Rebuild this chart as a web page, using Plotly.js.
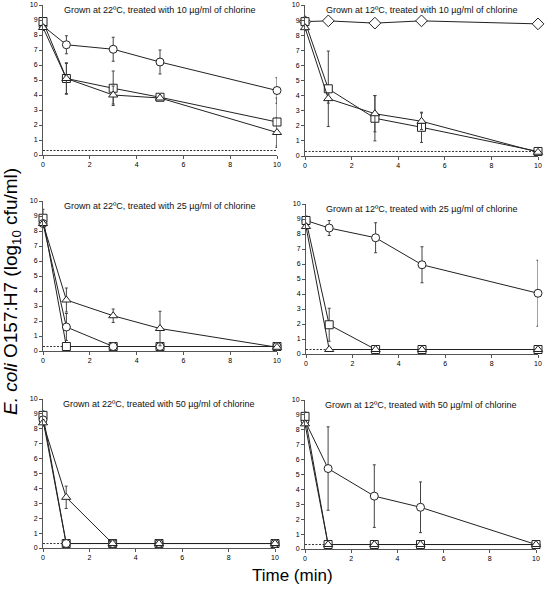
<!DOCTYPE html>
<html>
<head>
<meta charset="utf-8">
<script src="https://cdn.plot.ly/plotly-3.0.1.min.js"></script>
<style>html,body{margin:0;padding:0;background:#fff;}</style>
</head>
<body>
<div id="chart" style="width:545px;height:589px;"></div>
<script>
// Sampling times (min)
const times = [0, 1, 3, 5, 10];
const detectionLimit = 0.3;
const panelTitles = [
  "Grown at 22\u00baC, treated with 10 \u00b5g/ml of chlorine",
  "Grown at 12\u00baC, treated with 10 \u00b5g/ml of chlorine",
  "Grown at 22\u00baC, treated with 25 \u00b5g/ml of chlorine",
  "Grown at 12\u00baC, treated with 25 \u00b5g/ml of chlorine",
  "Grown at 22\u00baC, treated with 50 \u00b5g/ml of chlorine",
  "Grown at 12\u00baC, treated with 50 \u00b5g/ml of chlorine"
];

// Panel 1: 22C, 10 ug/ml
const p1Circle = [8.6, 7.35, 7.05, 6.2, 4.3];
const p1CircleErr = [0.15, 0.6, 0.8, 0.8, 0.85];
const p1Square = [8.9, 5.1, 4.45, 3.85, 2.2];
const p1SquareErr = [0.2, 1.05, 1.15, 0.1, 1.6];
const p1Triangle = [8.5, 5.1, 4.0, 3.8, 1.5];
const p1TriangleErr = [0.2, 1.0, 0.6, 0.1, 1.0];

// Panel 2: 12C, 10 ug/ml
const p2Diamond = [8.9, 8.95, 8.8, 8.95, 8.75];
const p2DiamondErr = [0.15, 0.15, 0.15, 0.15, 0.1];
const p2Square = [8.9, 4.45, 2.5, 1.9, 0.3];
const p2SquareErr = [0.3, 2.5, 1.5, 1.0, 0];
const p2Triangle = [8.5, 3.8, 2.8, 2.3, 0.25];
const p2TriangleErr = [0.2, 0.3, 1.2, 0.55, 0];

// Panel 3: 22C, 25 ug/ml
const p3Square = [8.85, 0.3, 0.3, 0.3, 0.3];
const p3SquareErr = [0.6, 0, 0, 0, 0];
const p3Circle = [8.5, 1.6, 0.3, 0.3, 0.3];
const p3CircleErr = [0.2, 0.9, 0, 0, 0];
const p3Triangle = [8.5, 3.4, 2.35, 1.5, 0.25];
const p3TriangleErr = [0.2, 0.8, 0.45, 1.15, 0];

// Panel 4: 12C, 25 ug/ml
const p4Circle = [8.9, 8.4, 7.75, 5.95, 4.05];
const p4CircleErr = [0.3, 0.5, 1.0, 1.2, 2.2];
const p4Square = [8.9, 1.95, 0.3, 0.3, 0.3];
const p4SquareErr = [0.2, 1.1, 0, 0, 0];
const p4Triangle = [8.5, 0.3, 0.3, 0.3, 0.3];
const p4TriangleErr = [0.2, 0, 0, 0, 0];

// Panel 5: 22C, 50 ug/ml
const p5Square = [8.9, 0.3, 0.3, 0.3, 0.3];
const p5SquareErr = [0.3, 0, 0, 0, 0];
const p5Circle = [8.6, 0.3, 0.3, 0.3, 0.3];
const p5CircleErr = [0.2, 0, 0, 0, 0];
const p5Triangle = [8.4, 3.4, 0.3, 0.3, 0.3];
const p5TriangleErr = [0.2, 0.75, 0, 0, 0];

// Panel 6: 12C, 50 ug/ml
const p6Circle = [8.6, 5.4, 3.55, 2.8, 0.3];
const p6CircleErr = [0.3, 2.8, 2.1, 1.7, 0];
const p6Square = [8.9, 0.3, 0.3, 0.3, 0.3];
const p6SquareErr = [0.3, 0, 0, 0, 0];
const p6Triangle = [8.4, 0.3, 0.3, 0.3, 0.3];
const p6TriangleErr = [0.2, 0, 0, 0, 0];

const xTicks = [0, 2, 4, 6, 8, 10];
const yTicks = [0, 1, 2, 3, 4, 5, 6, 7, 8, 9, 10];

const panels = [
  [["circle", p1Circle, p1CircleErr], ["square", p1Square, p1SquareErr], ["triangle-up", p1Triangle, p1TriangleErr]],
  [["diamond", p2Diamond, p2DiamondErr], ["square", p2Square, p2SquareErr], ["triangle-up", p2Triangle, p2TriangleErr]],
  [["square", p3Square, p3SquareErr], ["circle", p3Circle, p3CircleErr], ["triangle-up", p3Triangle, p3TriangleErr]],
  [["circle", p4Circle, p4CircleErr], ["square", p4Square, p4SquareErr], ["triangle-up", p4Triangle, p4TriangleErr]],
  [["square", p5Square, p5SquareErr], ["circle", p5Circle, p5CircleErr], ["triangle-up", p5Triangle, p5TriangleErr]],
  [["circle", p6Circle, p6CircleErr], ["square", p6Square, p6SquareErr], ["triangle-up", p6Triangle, p6TriangleErr]]
];

const W = 545, H = 589;
// pixel boxes [left, right, top, bottom]
const boxes = [
  [43, 277, 5, 155],
  [305, 538, 5, 156],
  [43, 277, 201, 351],
  [306, 538, 204, 354],
  [43, 275, 399, 548],
  [305, 536, 400, 549]
];

const traces = [];
const layout = {
  width: W, height: H,
  margin: {l: 0, r: 0, t: 0, b: 0},
  paper_bgcolor: "#fff", plot_bgcolor: "rgba(0,0,0,0)",
  showlegend: false,
  font: {family: "Liberation Sans, Arial, sans-serif", color: "#000"},
  annotations: [],
  shapes: []
};

panels.forEach((series, i) => {
  const n = i + 1;
  const xa = "x" + (n === 1 ? "" : n);
  const ya = "y" + (n === 1 ? "" : n);
  const b = boxes[i];
  layout["xaxis" + (n === 1 ? "" : n)] = {
    domain: [b[0] / W, b[1] / W], anchor: ya, range: [0, 10],
    tickvals: xTicks, ticktext: xTicks.map(String),
    ticks: "outside", ticklen: 3, tickwidth: 1, tickcolor: "#555",
    showline: true, linecolor: "#555", linewidth: 1,
    showgrid: false, zeroline: false,
    tickfont: {size: 7, color: "#000"}, fixedrange: true
  };
  layout["yaxis" + (n === 1 ? "" : n)] = {
    domain: [1 - b[3] / H, 1 - b[2] / H], anchor: xa, range: [0, 10],
    tickvals: yTicks, ticktext: yTicks.map(String),
    ticks: "outside", ticklen: 3, tickwidth: 1, tickcolor: "#555",
    showline: true, linecolor: "#555", linewidth: 1,
    showgrid: false, zeroline: false,
    tickfont: {size: 7, color: "#000"}, fixedrange: true
  };
  // detection limit dotted line
  traces.push({
    x: [times[0], times[times.length - 1]], y: [detectionLimit, detectionLimit],
    xaxis: xa, yaxis: ya, mode: "lines", hoverinfo: "skip",
    line: {color: "#333", width: 1, dash: "2px,1.5px"}, cliponaxis: false
  });
  series.forEach(([sym, vals, errs]) => {
    traces.push({
      x: times, y: vals, xaxis: xa, yaxis: ya,
      mode: "lines+markers", cliponaxis: false,
      line: {color: "#222", width: 1},
      marker: {symbol: sym, size: sym === "diamond" ? 9 : 8, color: "#fff",
               line: {width: 1, color: "#222"}},
      error_y: {type: "data", array: errs, visible: true, color: "#444", thickness: 1, width: 1.5}
    });
  });
  layout.annotations.push({
    xref: xa, yref: ya,
    x: 5, y: 9.65, text: panelTitles[i], showarrow: false,
    font: {size: 9, color: "#111"}, xanchor: "center", yanchor: "middle"
  });
});

layout.annotations.push({
  xref: "paper", yref: "paper", x: 12 / W, y: 1 - 292 / H,
  text: "<i>E. coli</i> O157:H7 (log<sub>10</sub> cfu/ml)", textangle: -90,
  showarrow: false, font: {size: 19, color: "#000"}, xanchor: "center", yanchor: "middle"
});
layout.annotations.push({
  xref: "paper", yref: "paper", x: 292 / W, y: 1 - 575 / H,
  text: "Time (min)", showarrow: false,
  font: {size: 17, color: "#000"}, xanchor: "center", yanchor: "middle"
});

Plotly.newPlot("chart", traces, layout, {staticPlot: true, displayModeBar: false});
</script>
</body>
</html>
